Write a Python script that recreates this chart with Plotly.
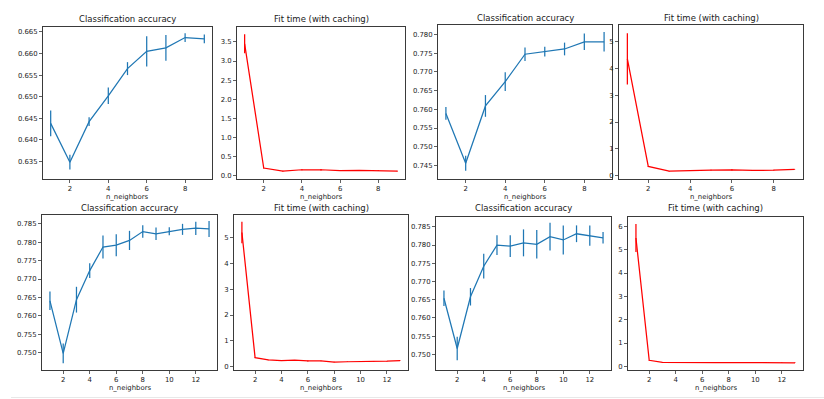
import plotly.graph_objects as go

W, H = 824, 399

# ---------------- data ----------------
n_top = [1, 2, 3, 4, 5, 6, 7, 8, 9]
n_bot = [1, 2, 3, 4, 5, 6, 7, 8, 9, 10, 11, 12, 13]

# top-left figure
tl_acc = [0.6438, 0.6348, 0.6442, 0.6502, 0.6565, 0.6605, 0.6613, 0.6637, 0.6634]
tl_acc_err = [0.0030, 0.0017, 0.0010, 0.0019, 0.0015, 0.0035, 0.0030, 0.0010, 0.0010]
tl_fit = [3.45, 0.20, 0.12, 0.155, 0.155, 0.13, 0.14, 0.13, 0.12]
tl_fit_err = [0.25, 0.01, 0.01, 0.01, 0.02, 0.01, 0.01, 0.01, 0.01]

# top-right figure
tr_acc = [0.7589, 0.7456, 0.7609, 0.7674, 0.7747, 0.7754, 0.7761, 0.7780, 0.7780]
tr_acc_err = [0.0017, 0.0020, 0.0029, 0.0025, 0.0018, 0.0013, 0.0017, 0.0022, 0.0026]
tr_fit = [4.35, 0.35, 0.17, 0.20, 0.21, 0.22, 0.20, 0.21, 0.24]
tr_fit_err = [0.95, 0.01, 0.01, 0.01, 0.01, 0.02, 0.01, 0.01, 0.01]

# bottom-left figure
bl_acc = [0.7641, 0.7498, 0.7644, 0.7723, 0.7787, 0.7792, 0.7805, 0.7829, 0.7823,
          0.7830, 0.7835, 0.7838, 0.7836]
bl_acc_err = [0.0025, 0.0027, 0.0035, 0.0020, 0.0031, 0.0030, 0.0026, 0.0017, 0.0017,
              0.0011, 0.0015, 0.0018, 0.0022]
bl_fit = [5.20, 0.35, 0.26, 0.23, 0.25, 0.22, 0.22, 0.18, 0.19, 0.19, 0.21, 0.21, 0.23]
bl_fit_err = [0.42, 0.01, 0.01, 0.01, 0.01, 0.02, 0.01, 0.01, 0.01, 0.01, 0.01, 0.01, 0.01]

# bottom-right figure
br_acc = [0.7654, 0.7516, 0.7658, 0.7742, 0.7800, 0.7797, 0.7806, 0.7802, 0.7823,
          0.7814, 0.7831, 0.7826, 0.7820]
br_acc_err = [0.0021, 0.0032, 0.0024, 0.0034, 0.0027, 0.0030, 0.0037, 0.0039, 0.0038,
              0.0040, 0.0023, 0.0028, 0.0016]
br_fit = [5.50, 0.26, 0.17, 0.16, 0.16, 0.15, 0.16, 0.16, 0.16, 0.16, 0.16, 0.15, 0.15]
br_fit_err = [0.60, 0.01, 0.01, 0.01, 0.01, 0.01, 0.01, 0.01, 0.01, 0.01, 0.01, 0.01, 0.01]

acc_title = "Classification accuracy"
fit_title = "Fit time (with caching)"
x_label = "n_neighbors"

BLUE = "#1f77b4"
RED = "#ff0000"

# panel specs: (x, y, err, color, box px (x0, x1, y0, y1), xrange, yrange, ydtick, yfmt, xdtick, title_y_px, xlabel_y_px)
panels = [
    (n_top, tl_acc, tl_acc_err, BLUE, (43, 212, 27, 179), [0.6, 9.4], [0.6309, 0.66615], 0.005, ".3f", 2, 19, 197),
    (n_top, tl_fit, tl_fit_err, RED, (237, 405, 27, 179), [0.6, 9.4], [-0.087, 3.89], 0.5, ".1f", 2, 19, 197),
    (n_top, tr_acc, tr_acc_err, BLUE, (438, 612, 25, 179), [0.6, 9.4], [0.7414, 0.7825], 0.005, ".3f", 2, 17.5, 197),
    (n_top, tr_fit, tr_fit_err, RED, (619, 803, 25, 179), [0.6, 9.4], [-0.12, 5.61], 1, "d", 2, 17.5, 197),
    (n_bot, bl_acc, bl_acc_err, BLUE, (42, 217, 215, 370), [0.4, 13.6], [0.7453, 0.7874], 0.005, ".3f", 2, 208, 388),
    (n_bot, bl_fit, bl_fit_err, RED, (234, 408, 215, 370), [0.4, 13.6], [-0.13, 5.88], 1, "d", 2, 208, 388),
    (n_bot, br_acc, br_acc_err, BLUE, (436, 611, 217, 370), [0.4, 13.6], [0.7457, 0.7877], 0.005, ".3f", 2, 208, 388),
    (n_bot, br_fit, br_fit_err, RED, (628, 803, 217, 370), [0.4, 13.6], [-0.157, 6.4], 1, "d", 2, 208, 388),
]
titles = [acc_title, fit_title] * 4

FONT = "DejaVu Sans"
TICK_FONT = dict(family=FONT, size=6.9, color="#222222")
SPINE = "#3a3a3a"

fig = go.Figure()
layout = dict(
    width=W, height=H,
    margin=dict(l=0, r=0, t=0, b=0),
    paper_bgcolor="white", plot_bgcolor="white",
    showlegend=False,
    font=dict(family=FONT, color="#222222"),
    annotations=[], shapes=[],
)

for i, (xs, ys, es, col, box, xr, yr, ydt, yfmt, xdt, ty, ly) in enumerate(panels):
    k = "" if i == 0 else str(i + 1)
    x0, x1, y0, y1 = box
    fig.add_trace(go.Scatter(
        x=xs, y=ys, mode="lines",
        line=dict(color=col, width=1.25),
        error_y=dict(type="data", array=es, visible=True, color=col, thickness=1.25, width=0),
        xaxis="x" + k, yaxis="y" + k, hoverinfo="skip",
    ))
    axcommon = dict(
        showgrid=False, zeroline=False, showline=True, mirror=True,
        linecolor=SPINE, linewidth=1, ticks="outside", ticklen=3, tickwidth=0.8,
        tickcolor=SPINE, tickfont=TICK_FONT,
    )
    layout["xaxis" + k] = dict(
        axcommon, domain=[x0 / W, x1 / W], anchor="y" + k, range=xr,
        tick0=0, dtick=xdt,
    )
    layout["yaxis" + k] = dict(
        axcommon, domain=[1 - y1 / H, 1 - y0 / H], anchor="x" + k, range=yr,
        tick0=0, dtick=ydt, tickformat=yfmt,
    )
    cx = (x0 + x1) / 2 / W
    layout["annotations"].append(dict(
        text=titles[i], x=cx, y=1 - ty / H, xref="paper", yref="paper",
        showarrow=False, xanchor="center", yanchor="middle",
        font=dict(family=FONT, size=8.5, color="#1a1a1a"),
    ))
    layout["annotations"].append(dict(
        text=x_label, x=cx, y=1 - ly / H, xref="paper", yref="paper",
        showarrow=False, xanchor="center", yanchor="middle",
        font=dict(family=FONT, size=6.9, color="#222222"),
    ))

# clipped left edge of the first figure and thin separator at the bottom
layout["shapes"].append(dict(
    type="rect", xref="paper", yref="paper", x0=0, x1=17 / W, y0=0.5, y1=1,
    fillcolor="white", line=dict(width=0), layer="above",
))
layout["shapes"].append(dict(
    type="line", xref="paper", yref="paper", x0=11 / W, x1=1, y0=1.5 / H, y1=1.5 / H,
    line=dict(color="#e8e8e8", width=1), layer="above",
))

fig.update_layout(**layout)
fig.write_html(
    "out.html",
    config={"displayModeBar": False, "staticPlot": True},
    post_script="document.body.style.margin='0';document.body.style.overflow='hidden';",
)
